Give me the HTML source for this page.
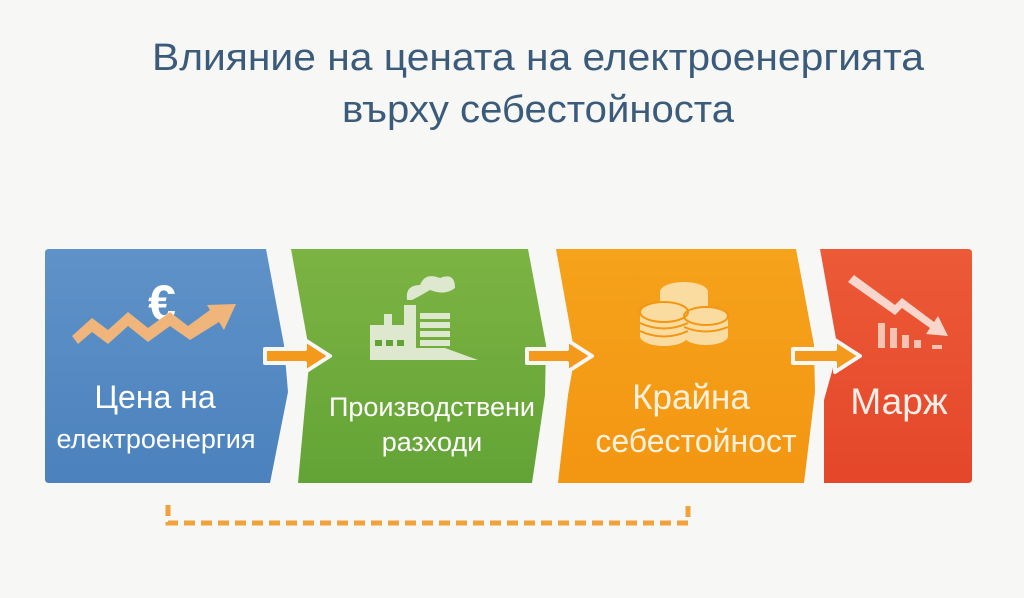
<!DOCTYPE html>
<html><head><meta charset="utf-8"><style>
html,body{margin:0;padding:0;background:#f7f7f6;}
svg{display:block}
text{font-family:"Liberation Sans","DejaVu Sans",sans-serif;}
</style></head><body>
<svg width="1024" height="598" viewBox="0 0 1024 598" xmlns="http://www.w3.org/2000/svg">
<defs>
<linearGradient id="gb" x1="0" y1="0" x2="0" y2="1"><stop offset="0" stop-color="#5f92c8"/><stop offset="1" stop-color="#4b82bd"/></linearGradient>
<linearGradient id="gg" x1="0" y1="0" x2="0" y2="1"><stop offset="0" stop-color="#7cb443"/><stop offset="1" stop-color="#63a336"/></linearGradient>
<linearGradient id="go" x1="0" y1="0" x2="0" y2="1"><stop offset="0" stop-color="#f6a21b"/><stop offset="1" stop-color="#f39612"/></linearGradient>
<linearGradient id="gr" x1="0" y1="0" x2="0" y2="1"><stop offset="0" stop-color="#ec5a37"/><stop offset="1" stop-color="#e4472a"/></linearGradient>
</defs>
<rect width="1024" height="598" fill="#f7f7f6"/>
<text x="538" y="70" text-anchor="middle" font-size="38" fill="#3b5b7b" textLength="772" lengthAdjust="spacingAndGlyphs">Влияние на цената на електроенергията</text>
<text x="538" y="122" text-anchor="middle" font-size="38" fill="#3b5b7b" textLength="392" lengthAdjust="spacingAndGlyphs">върху себестойноста</text>

<path d="M49,249 L266,249 L284,345 L288,392 L270,483 L49,483 Q45,483 45,479 L45,253 Q45,249 49,249Z" fill="url(#gb)"/>
<path d="M291,249 L528,249 L546,345 L545,395 L532,483 L298,483 L306,395 L310,355 Z" fill="url(#gg)"/>
<path d="M556,249 L796,249 L814,345 L815,392 L804,483 L558,483 L568,395 L575,355 Z" fill="url(#go)"/>
<path d="M820,249 L968,249 Q972,249 972,253 L972,479 Q972,483 968,483 L824,483 L824,400 L838,350 Z" fill="url(#gr)"/>

<g fill="#f39a1c" stroke="#f7f7f6" stroke-width="4" stroke-linejoin="round">
<path d="M265,349 L305,349 L305,340 L330,356 L305,372 L305,363 L265,363Z"/>
<path d="M527,349 L567,349 L567,340 L592,356 L567,372 L567,363 L527,363Z"/>
<path d="M793,349 L835,349 L835,340 L860,356 L835,372 L835,363 L793,363Z"/>
</g>

<path d="M168,505 L168,523 L688,523 L688,505" fill="none" stroke="#f2a23a" stroke-width="5" stroke-dasharray="11,6"/>

<!-- blue icon -->
<text x="162" y="320" text-anchor="middle" font-size="50" font-weight="bold" fill="#fff">€</text>
<path d="M72,336 L92,318 L108,330 L128,312 L148,328 L170,312 L188,326 L210,310 L207,305 L236,304 L224,330 L219,322 L190,340 L170,326 L148,342 L128,326 L108,344 L92,332 L78,344Z" fill="#f0b57a"/>
<!-- factory -->
<g fill="#dde8cf">
<path d="M370,360 L370,325 L384,325 L384,314 L392,314 L392,325 L404,325 L404,305 L416,305 L416,360Z"/>
<rect x="420" y="313" width="30" height="6"/><rect x="420" y="322" width="30" height="6"/><rect x="420" y="331" width="30" height="6"/><rect x="420" y="340" width="30" height="6"/>
<path d="M416,348 L445,348 L478,360 L416,360Z"/>
<path d="M407,300 Q405,285 420,285 Q425,272 440,278 Q455,272 455,288 Q445,296 430,290 Q420,296 412,300Z"/>
</g>
<g fill="#63a336"><rect x="375" y="340" width="7" height="6"/><rect x="386" y="340" width="7" height="6"/><rect x="397" y="340" width="7" height="6"/></g>
<!-- coins -->
<g fill="#fbdca0">
<ellipse cx="684" cy="292" rx="24" ry="10"/><rect x="660" y="292" width="48" height="24"/>
<ellipse cx="664" cy="312" rx="24" ry="10"/><rect x="640" y="312" width="48" height="24"/><ellipse cx="664" cy="336" rx="24" ry="10"/>
<ellipse cx="706" cy="316" rx="22" ry="9"/><rect x="684" y="316" width="44" height="20"/><ellipse cx="706" cy="336" rx="22" ry="9"/>
</g>
<g stroke="#f39612" stroke-width="2" fill="none">
<ellipse cx="664" cy="312" rx="24" ry="10"/><ellipse cx="706" cy="316" rx="22" ry="9"/>
<path d="M640,323 Q664,334 688,323 M640,331 Q664,342 688,331 M684,327 Q706,336 728,327"/>
</g>
<!-- red icon -->
<path d="M848,282 L854,275 L895,305 L902,298 L934,322 L938,316 L948,336 L926,334 L930,328 L902,308 L895,315Z" fill="#f9d6cc"/>
<g fill="#f6c2b2"><rect x="878" y="323" width="7" height="25"/><rect x="890" y="328" width="7" height="20"/><rect x="902" y="335" width="7" height="13"/><rect x="914" y="340" width="7" height="8"/><rect x="932" y="345" width="10" height="4"/></g>

<g fill="#fff" text-anchor="middle">
<text x="155" y="408" font-size="32">Цена на</text>
<text x="156" y="448" font-size="27">електроенергия</text>
<text x="432" y="416" font-size="27">Производствени</text>
<text x="432" y="451" font-size="27">разходи</text>
<text x="691" y="409" font-size="35" fill="#fdf1dc">Крайна</text>
<text x="696" y="452" font-size="32" fill="#fdf1dc">себестойност</text>
<text x="899" y="414" font-size="37" fill="#fdeee8">Марж</text>
</g>
</svg>
</body></html>
